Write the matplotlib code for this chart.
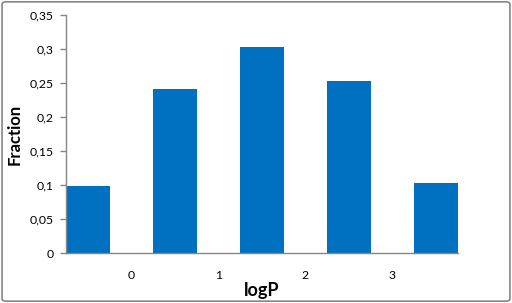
import matplotlib
matplotlib.use("Agg")
import matplotlib.pyplot as plt
from matplotlib.patches import FancyBboxPatch
from matplotlib.ticker import FuncFormatter

categories = [0, 1, 2, 3, 4]
fractions = [0.098, 0.2416, 0.3034, 0.2534, 0.1034]
tick_positions = [0.5, 1.5, 2.5, 3.5]
tick_labels = ["0", "1", "2", "3"]
yticks = [0, 0.05, 0.1, 0.15, 0.2, 0.25, 0.3, 0.35]

plt.rcParams['font.family'] = ['Lato', 'DejaVu Sans']

fig = plt.figure(figsize=(5.12, 3.03), dpi=100)
ax = fig.add_axes([66/512, 1-253/303, (457.5-66)/512, (253-15)/303])

ax.bar(categories, fractions, width=0.5, color="#0070C0")
ax.set_xlim(-0.25, 4.25)
ax.set_ylim(0, 0.35)
ax.set_yticks(yticks)
ax.yaxis.set_major_formatter(FuncFormatter(lambda v, p: ("%g" % round(v, 2)).replace(".", ",")))
ax.set_xticks(tick_positions)
ax.set_xticklabels(tick_labels)

for s in ["top", "right"]:
    ax.spines[s].set_visible(False)
for s in ["left", "bottom"]:
    ax.spines[s].set_color("#868686")
    ax.spines[s].set_linewidth(1.0)

ax.tick_params(axis="y", length=4, width=1, color="#868686", pad=5, labelsize=8.8)
ax.tick_params(axis="x", length=0, pad=12, labelsize=8.8)

ax.set_ylabel("Fraction", fontsize=12, fontweight="bold", labelpad=5)
ax.set_xlabel("logP", fontsize=13, fontweight="bold", labelpad=1)

border = FancyBboxPatch((0.004, 0.006), 0.992, 0.988, boxstyle="round,pad=0,rounding_size=0.008",
                        transform=fig.transFigure, fill=False, edgecolor="#868686", linewidth=1.2)
fig.patches.append(border)

fig.savefig("out.png", dpi=100)
